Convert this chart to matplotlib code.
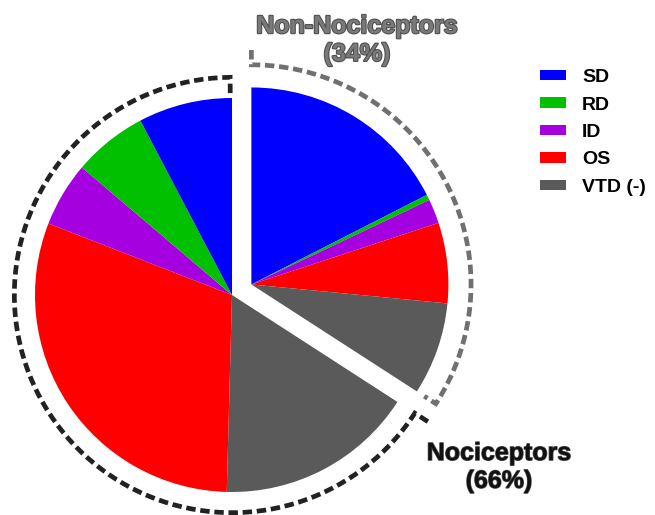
import numpy as np
import matplotlib
matplotlib.use('Agg')
import matplotlib.pyplot as plt
import matplotlib.patheffects as pe

plt.rcParams['font.family'] = ['Liberation Sans', 'DejaVu Sans']

categories = ['SD', 'RD', 'ID', 'OS', 'VTD (-)']
colors = ['#0000ff', '#00c000', '#a400e0', '#ff0000', '#5a5a5a']
group_names = ['Non-Nociceptors', 'Nociceptors']
# percent of all cells, same order as categories
non_noci = [17.5, 0.45, 2.0, 6.6, 7.6]
noci = [7.7, 6.1, 5.3, 30.5, 16.3]

total = sum(non_noci) + sum(noci)
right_frac = sum(non_noci) / total
left_frac = sum(noci) / total

fig = plt.figure(figsize=(6.55, 5.15), dpi=100)
ax = fig.add_axes([0, 0, 1, 1])

# pixel layout: left pie centre at (232, 295), radius 197 px
R = 197.0
cx, cy = 232.0, 295.0

# exploded group moves along its own bisector
bis = np.radians(90 - 180 * right_frac)
shift = 0.112
off = (shift * np.cos(bis), shift * np.sin(bis))

wp = dict(linewidth=0)
wedges, _ = ax.pie(np.array(non_noci) / total, colors=colors, startangle=90,
                   counterclock=False, normalize=False, center=off,
                   wedgeprops=wp, frame=True)
ax.pie(np.array(noci[::-1]) / total, colors=colors[::-1],
       startangle=90 - 360 * right_frac, counterclock=False, normalize=False,
       center=(0, 0), wedgeprops=wp, frame=True)


def bracket(c, r, a1, a2, r1, r2, color):
    # dashed arc from a1 to a2 (degrees) with short radial ends
    t = np.radians(np.linspace(a1, a2, 200))
    xs = list(c[0] + r * np.cos(t))
    ys = list(c[1] + r * np.sin(t))
    ta, tb = np.radians(a1), np.radians(a2)
    xs = [c[0] + r1 * np.cos(ta)] + xs + [c[0] + r2 * np.cos(tb)]
    ys = [c[1] + r1 * np.sin(ta)] + ys + [c[1] + r2 * np.sin(tb)]
    ax.plot(xs, ys, color=color, lw=3.4, linestyle=(0, (2.0, 1.0)),
            dash_joinstyle='miter', dash_capstyle='butt')


end_angle = 90 - 360 * right_frac
bracket(off, 1.115, 90, end_angle, 1.19, 1.045, '#707070')
bracket((0, 0), 1.105, 90.5, end_angle + 360, 1.025, 1.19, '#222222')

ax.text((357 - cx) / R, (cy - 40) / R,
        '%s\n(%d%%)' % (group_names[0], round(right_frac * 100)),
        ha='center', va='center', ma='center', fontsize=18, fontweight='bold',
        color='#7a7a7a',
        path_effects=[pe.withStroke(linewidth=1.6, foreground='#505050')])
ax.text((499 - cx) / R, (cy - 467) / R,
        '%s\n(%d%%)' % (group_names[1], round(left_frac * 100)),
        ha='center', va='center', ma='center', fontsize=18, fontweight='bold',
        color='#111111',
        path_effects=[pe.withStroke(linewidth=1.0, foreground='#555555')])

ax.set_xlim(-cx / R, (655 - cx) / R)
ax.set_ylim((cy - 515) / R, cy / R)
ax.set_aspect('equal', adjustable='datalim')
ax.axis('off')

leg = fig.legend(wedges, categories, loc='upper left',
                 bbox_to_anchor=(540 / 655, 1 - 69 / 515), frameon=False,
                 prop=dict(weight='bold', size=14), handlelength=1.34,
                 handleheight=0.46, handletextpad=0.82, labelspacing=0.54,
                 borderpad=0, borderaxespad=0)

fig.savefig('out.png', dpi=100)
